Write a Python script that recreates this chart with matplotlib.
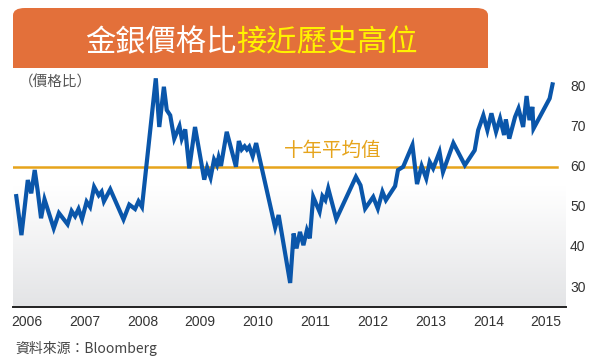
import matplotlib

matplotlib.use("Agg")
import matplotlib.pyplot as plt
import numpy as np
from matplotlib.colors import LinearSegmentedColormap
from matplotlib.patches import FancyBboxPatch

CJK = ["Noto Sans CJK TC", "DejaVu Sans"]

TITLE_WHITE = "金銀價格比"
TITLE_YELLOW = "接近歷史高位"
UNIT_LABEL = "（價格比）"
AVG_LABEL = "十年平均值"
SOURCE = "資料來源：Bloomberg"

years = list(range(2006, 2016))
y_ticks = [30, 40, 50, 60, 70, 80]
avg_ratio = 59.7

# gold / silver ratio (x in years)
dates = [
    2005.81, 2005.90, 2006.01, 2006.07, 2006.13, 2006.18, 2006.24, 2006.30,
    2006.46, 2006.55, 2006.70, 2006.77, 2006.83, 2006.89, 2006.95, 2007.03,
    2007.09, 2007.16, 2007.24, 2007.29, 2007.33, 2007.44, 2007.67, 2007.77,
    2007.87, 2007.93, 2007.99, 2008.23, 2008.29, 2008.37, 2008.42, 2008.48,
    2008.55, 2008.64, 2008.68, 2008.74, 2008.81, 2008.91, 2009.07, 2009.12,
    2009.18, 2009.24, 2009.29, 2009.32, 2009.36, 2009.46, 2009.62, 2009.67,
    2009.72, 2009.77, 2009.81, 2009.85, 2009.91, 2009.97, 2010.30, 2010.36,
    2010.56, 2010.62, 2010.67, 2010.73, 2010.79, 2010.85, 2010.90, 2010.96,
    2011.07, 2011.12, 2011.17, 2011.22, 2011.36, 2011.70, 2011.78, 2011.86,
    2012.00, 2012.08, 2012.16, 2012.22, 2012.38, 2012.43, 2012.52, 2012.68,
    2012.76, 2012.84, 2012.92, 2012.98, 2013.04, 2013.15, 2013.21, 2013.39,
    2013.59, 2013.76, 2013.82, 2013.91, 2013.98, 2014.05, 2014.13, 2014.20,
    2014.27, 2014.30, 2014.36, 2014.46, 2014.52, 2014.60, 2014.66, 2014.71,
    2014.76, 2014.78, 2015.06, 2015.11,
]
ratio = [
    52.4, 42.7, 56.4, 53.1, 58.9, 53.9, 46.9, 51.6,
    44.4, 48.2, 45.4, 48.7, 47.4, 49.2, 46.7, 51.0,
    49.7, 54.7, 52.6, 53.5, 51.1, 54.1, 46.6, 50.3,
    49.2, 51.1, 49.7, 81.7, 69.6, 79.6, 73.8, 72.5,
    66.7, 69.8, 66.7, 69.0, 59.3, 69.6, 56.5, 59.5,
    57.0, 61.5, 60.1, 62.0, 59.9, 68.4, 59.7, 66.1,
    64.0, 64.8, 64.0, 64.7, 62.3, 65.6, 44.6, 47.7,
    30.8, 43.1, 39.4, 43.5, 40.2, 43.9, 41.9, 52.2,
    48.5, 52.4, 51.4, 54.3, 46.7, 57.2, 55.1, 49.3,
    52.2, 49.3, 53.5, 51.4, 54.9, 58.9, 59.7, 65.1,
    55.4, 59.9, 56.8, 60.9, 59.3, 63.4, 58.4, 65.6,
    60.1, 63.8, 68.8, 72.5, 68.8, 73.0, 68.4, 71.7,
    67.6, 71.5, 66.7, 72.1, 74.2, 69.6, 77.3, 71.3,
    74.6, 69.2, 76.7, 80.2,
]

fig = plt.figure(figsize=(6, 3.63), dpi=100)
ax = fig.add_axes([0.022, 0.154, 0.921, 0.659])

x_lo, x_hi = 2005.757, 2015.34
y_lo, y_hi = 24.8, 84.3

# white-to-grey background inside the plot (row 0 = top)
bg = LinearSegmentedColormap.from_list("bg", ["#ffffff", "#ffffff", "#e3e4e6"])
ax.imshow(np.linspace(0, 1, 256).reshape(-1, 1), cmap=bg, aspect="auto",
          extent=[x_lo, x_hi, y_lo, y_hi], zorder=0)
ax.set_xlim(x_lo, x_hi)
ax.set_ylim(y_lo, y_hi)

ax.axhline(avg_ratio, xmin=0, xmax=0.984, color="#e6a41c", lw=1.8, zorder=2)
ax.plot(dates, ratio, color="#0a56aa", lw=3.0, solid_joinstyle="miter", zorder=3)

ax.text(2010.45, avg_ratio + 1.5, AVG_LABEL, family=CJK, fontsize=14,
        color="#e6a41c", va="bottom", ha="left")
ax.text(2005.86, 80.6, UNIT_LABEL, family=CJK, fontsize=10.5, color="#555555",
        va="center", ha="left")

for side in ["top", "left", "right"]:
    ax.spines[side].set_visible(False)
ax.spines["bottom"].set_color("#222222")
ax.spines["bottom"].set_linewidth(1.4)
ax.spines["bottom"].set_zorder(4)

ax.set_xticks(years)
ax.set_xticklabels([str(y) for y in years])
ax.set_yticks(y_ticks)
ax.yaxis.tick_right()
ax.tick_params(axis="x", length=0, pad=6, labelsize=10, labelcolor="#333333")
ax.tick_params(axis="y", length=0, pad=3, labelsize=10, labelcolor="#333333")
for lab in ax.get_xticklabels() + ax.get_yticklabels():
    lab.set_family("Liberation Sans")

# orange title banner, bottom edge hidden behind the plot
banner = FancyBboxPatch((13 / 600, (363 - 80) / 363), 475 / 600, 72 / 363,
                        boxstyle="round,pad=0,rounding_size=0.02",
                        transform=fig.transFigure, facecolor="#e3703a",
                        edgecolor="none", zorder=-1)
fig.patches.append(banner)

t1 = fig.text(85 / 600, 1 - 43 / 363, TITLE_WHITE, family=CJK, fontsize=21.8,
              color="white", va="center", ha="left", weight="medium")
fig.canvas.draw()
bb = t1.get_window_extent()
fig.text(bb.x1 / 600, 1 - 43 / 363, TITLE_YELLOW, family=CJK, fontsize=21.8,
         color="#fff200", va="center", ha="left", weight="medium")

fig.text(15 / 600, 1 - 348 / 363, SOURCE, family=CJK, fontsize=10,
         color="#444444", va="center", ha="left")

fig.savefig("out.png", dpi=100)
